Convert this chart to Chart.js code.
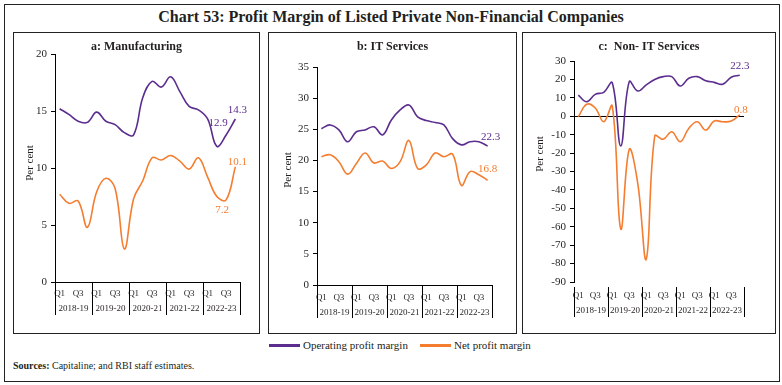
<!DOCTYPE html>
<html><head><meta charset="utf-8">
<script src="https://cdn.jsdelivr.net/npm/chart.js@4/dist/chart.umd.min.js"></script>
<style>
html,body{margin:0;padding:0;background:#fff;}
body{width:782px;height:385px;position:relative;overflow:hidden;font-family:"Liberation Serif",serif;color:#231f20;}
#frame{position:absolute;left:4px;top:4px;width:776px;height:378px;border:1px solid #222;box-sizing:border-box;}
#title{position:absolute;left:0;top:7px;width:782px;text-align:center;font-size:16px;font-weight:bold;line-height:20px;}
.panel{position:absolute;top:32px;height:302px;border:1px solid #222;box-sizing:border-box;}
.ptitle{position:absolute;top:6px;left:0;right:0;text-align:center;font-weight:bold;font-size:12px;line-height:14px;}
.panel canvas{position:absolute;left:0;top:0;}
#legend{position:absolute;top:338px;left:0;width:782px;height:14px;font-size:11px;line-height:14px;}
.lg{position:absolute;top:0;white-space:nowrap;}
.sw{position:absolute;top:6px;height:3px;width:31px;}
#sources{position:absolute;left:13px;top:359px;font-size:10px;line-height:14px;}
</style>
</head><body>
<div id="frame"></div>
<div id="title">Chart 53: Profit Margin of Listed Private Non-Financial Companies</div>

<div class="panel" style="left:13px;width:247px;"><canvas id="c1" width="245" height="300"></canvas><div class="ptitle">a: Manufacturing</div></div>
<div class="panel" style="left:268px;width:249px;"><canvas id="c2" width="247" height="300"></canvas><div class="ptitle">b: IT Services</div></div>
<div class="panel" style="left:522px;width:254px;"><canvas id="c3" width="252" height="300"></canvas><div class="ptitle">c:&nbsp; Non- IT Services</div></div>

<div id="legend">
  <div class="sw" style="left:269px;background:#5B2D8E;"></div>
  <div class="lg" style="left:303px;">Operating profit margin</div>
  <div class="sw" style="left:420px;background:#F47D30;"></div>
  <div class="lg" style="left:454px;">Net profit margin</div>
</div>
<div id="sources"><b>Sources:</b> Capitaline; and RBI staff estimates.</div>

<script>
// ---- data ----
const quarters = ['Q1','Q2','Q3','Q4'];
const years = ['2018-19','2019-20','2020-21','2021-22','2022-23'];
const quarterTickLabels = ['Q1','','Q3',''];
const categories = years.flatMap(y => quarters.map(q => q + ' ' + y));

const mfgOperating   = [15.2,14.7,14.1,14.0,14.9,14.1,13.8,13.1,12.9,16.2,17.6,17.1,18.0,16.7,15.4,15.1,14.3,11.9,12.9,14.3];
const mfgNet         = [7.7,6.9,7.1,4.8,7.9,9.1,8.2,2.9,7.3,8.9,10.9,10.7,11.1,10.6,9.9,10.9,9.2,7.5,7.2,10.1];
const itOperating    = [25.1,25.7,24.9,23.0,24.6,24.9,25.4,24.1,26.5,28.1,28.9,27.0,26.4,26.1,25.7,23.5,22.5,23.0,23.0,22.3];
const itNet          = [20.6,20.9,19.8,17.8,19.5,21.2,19.6,19.9,18.7,19.8,23.2,18.7,19.3,21.2,20.6,21.0,16.0,18.2,17.7,16.8];
const nonItOperating = [11.5,7.9,11.9,13.0,18.2,-16.1,18.8,13.7,17.0,20.0,21.5,21.5,16.4,20.6,21.5,19.3,18.4,17.4,21.2,22.3];
const nonItNet       = [-0.3,6.5,4.5,-3.0,5.6,-61.2,-18.0,-36.4,-77.6,-10.7,-12.5,-8.4,-13.8,-6.6,-3.0,-7.5,-2.6,-3.0,-2.6,0.8];

// ---- styling ----
const PURPLE = '#5B2D8E';
const ORANGE = '#F47D30';
const FONT = '"Liberation Serif", serif';
const TXT = '#231f20';

const groupPlugin = {
  id: 'groups',
  afterDraw(chart, args, opts) {
    const {ctx, chartArea} = chart;
    const x = chart.scales.x;
    const n = quarters.length;
    ctx.save();
    ctx.strokeStyle = '#000'; ctx.lineWidth = 1;
    ctx.fillStyle = TXT;
    ctx.font = '9px ' + FONT;
    ctx.textAlign = 'center'; ctx.textBaseline = 'middle';
    const bounds = [];
    for (let g = 0; g <= years.length; g++) {
      let px;
      if (g === 0) px = chartArea.left;
      else if (g === years.length) px = chartArea.right;
      else px = (x.getPixelForValue(g * n - 1) + x.getPixelForValue(g * n)) / 2;
      bounds.push(px);
      const xx = Math.round(px) + 0.5;
      ctx.beginPath();
      ctx.moveTo(xx, chartArea.bottom + opts.divTop);
      ctx.lineTo(xx, chartArea.bottom + opts.divBottom);
      ctx.stroke();
    }
    years.forEach((y, g) => ctx.fillText(y, (bounds[g] + bounds[g + 1]) / 2, chartArea.bottom + opts.yearY));
    // y axis title
    ctx.save();
    ctx.font = '11px ' + FONT;
    ctx.translate(opts.titleX, opts.titleY);
    ctx.rotate(-Math.PI / 2);
    ctx.fillText('Per cent', 0, 0);
    ctx.restore();
    ctx.restore();
  }
};

const labelPlugin = {
  id: 'endLabels',
  afterDatasetsDraw(chart, args, opts) {
    const {ctx} = chart;
    (opts.items || []).forEach(it => {
      const ds = chart.data.datasets[it.ds];
      const pt = chart.getDatasetMeta(it.ds).data[it.i];
      ctx.save();
      ctx.font = '11px ' + FONT;
      ctx.fillStyle = ds.borderColor;
      ctx.textAlign = 'center'; ctx.textBaseline = 'middle';
      ctx.fillText(ds.data[it.i].toFixed(1), pt.x + it.dx, pt.y + it.dy);
      ctx.restore();
    });
  }
};

function makeChart(id, op, net, y, g, items) {
  return new Chart(document.getElementById(id), {
    type: 'line',
    data: {
      labels: categories,
      datasets: [
        {label: 'Operating profit margin', data: op, borderColor: PURPLE, backgroundColor: PURPLE},
        {label: 'Net profit margin', data: net, borderColor: ORANGE, backgroundColor: ORANGE}
      ]
    },
    options: {
      responsive: false, animation: false, events: [],
      layout: {padding: {left: 0, right: g.padRight, top: g.padTop, bottom: 0}},
      elements: {point: {radius: 0}, line: {tension: 0.4, borderWidth: 1.6, fill: false}},
      plugins: {
        legend: {display: false}, tooltip: {enabled: false},
        groups: {divTop: g.divTop, divBottom: g.divBottom, yearY: g.yearY, titleX: g.titleX, titleY: g.titleY},
        endLabels: {items: items}
      },
      scales: {
        x: {
          offset: true,
          grid: {display: true, drawOnChartArea: false, drawTicks: false, color: 'transparent'},
          border: {display: g.xBorder, color: '#000', width: 1},
          ticks: {autoSkip: false, maxRotation: 0, padding: g.qPad, color: TXT, font: {family: FONT, size: 9},
                  callback: (v, i) => quarterTickLabels[i % quarters.length]},
          afterFit: s => { s.height = g.xHeight; }
        },
        y: {
          min: y.min, max: y.max,
          ticks: {stepSize: y.step, padding: 4, color: TXT, font: {family: FONT, size: 11}},
          grid: {drawTicks: true, tickLength: 4, tickColor: '#000', lineWidth: 1,
                 color: c => (y.zeroLine && c.tick && c.tick.value === 0) ? '#000' : 'transparent'},
          border: {display: true, color: '#000', width: 1},
          afterFit: s => { s.width = g.yWidth; }
        }
      }
    },
    plugins: [groupPlugin, labelPlugin]
  });
}

makeChart('c1', mfgOperating, mfgNet,
  {min: 0, max: 20, step: 5, zeroLine: false},
  {padRight: 19, padTop: 21, yWidth: 41, xHeight: 51, xBorder: true, qPad: 6, yearY: 27, divTop: 0, divBottom: 33, titleX: 16, titleY: 130},
  [{ds: 0, i: 19, dx: 2, dy: -9}, {ds: 0, i: 18, dx: -8, dy: -12}, {ds: 1, i: 19, dx: 2, dy: -5}, {ds: 1, i: 18, dx: -4, dy: 10}]);

makeChart('c2', itOperating, itNet,
  {min: 0, max: 35, step: 5, zeroLine: false},
  {padRight: 24, padTop: 34, yWidth: 48, xHeight: 48, xBorder: true, qPad: 7, yearY: 28, divTop: 0, divBottom: 33, titleX: 19, titleY: 137},
  [{ds: 0, i: 19, dx: 3, dy: -9}, {ds: 1, i: 19, dx: 0, dy: -11}]);

makeChart('c3', nonItOperating, nonItNet,
  {min: -90, max: 30, step: 10, zeroLine: true},
  {padRight: 31, padTop: 28, yWidth: 51, xHeight: 51, xBorder: false, qPad: 8, yearY: 29, divTop: 5, divBottom: 35, titleX: 17, titleY: 121},
  [{ds: 0, i: 19, dx: 0, dy: -9}, {ds: 1, i: 19, dx: 1, dy: -5}]);
</script>
</body></html>
